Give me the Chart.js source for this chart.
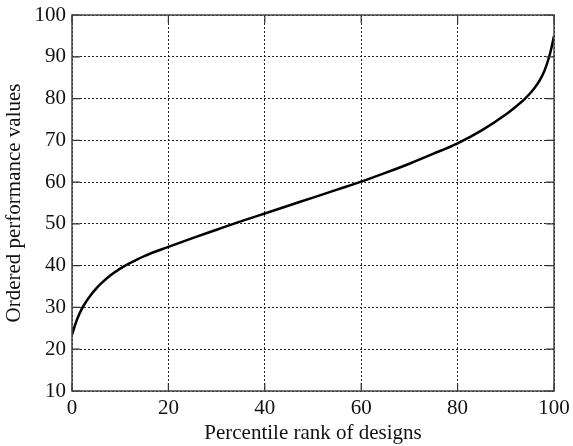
<!DOCTYPE html>
<html>
<head>
<meta charset="utf-8">
<script src="https://cdn.jsdelivr.net/npm/chart.js@4/dist/chart.umd.min.js"></script>
<style>
  html,body{margin:0;padding:0;background:#fff;}
  #wrap{width:573px;height:446px;position:relative;}
</style>
</head>
<body>
<div id="wrap"><canvas id="c"></canvas></div>
<script>
const percentile = [0, 1, 2, 3, 4, 5, 6, 8, 10, 12, 15, 20, 25, 30, 35, 40, 45, 50, 55, 60, 65, 70, 75, 80, 85, 90, 92, 94, 95, 96, 97, 98, 99, 99.5, 100];
const perfValues = [23.5, 27, 29.6, 31.5, 33.1, 34.5, 35.7, 37.7, 39.3, 40.6, 42.3, 44.5, 46.6, 48.6, 50.6, 52.5, 54.4, 56.3, 58.2, 60.1, 62.2, 64.4, 66.8, 69.3, 72.4, 76.2, 78, 80, 81.2, 82.6, 84.3, 86.6, 90, 92.3, 95];
const xTicks = [0, 20, 40, 60, 80, 100];
const yTicks = [10, 20, 30, 40, 50, 60, 70, 80, 90, 100];

const serif = '"Liberation Serif", "DejaVu Serif", serif';

// short solid tick marks drawn inward from the frame
const innerTicks = {
  id:'innerTicks',
  afterDraw(chart){
    const {ctx, chartArea:a, scales:{x, y}} = chart;
    ctx.save();
    ctx.strokeStyle = '#333';
    ctx.lineWidth = 1.2;
    ctx.beginPath();
    xTicks.forEach(v=>{
      const px = x.getPixelForValue(v);
      ctx.moveTo(px, a.bottom); ctx.lineTo(px, a.bottom-8);
      ctx.moveTo(px, a.top); ctx.lineTo(px, a.top+8);
    });
    yTicks.forEach(v=>{
      const py = y.getPixelForValue(v);
      ctx.moveTo(a.left, py); ctx.lineTo(a.left+8, py);
      ctx.moveTo(a.right, py); ctx.lineTo(a.right-8, py);
    });
    ctx.stroke();
    ctx.strokeStyle = '#444';
    ctx.lineWidth = 1.5;
    ctx.strokeRect(a.left, a.top, a.right-a.left, a.bottom-a.top);
    ctx.restore();
  }
};

new Chart(document.getElementById('c'), {
  type:'line',
  data:{
    datasets:[{
      data: percentile.map((p,i)=>({x:p, y:perfValues[i]})),
      borderColor:'#000',
      borderWidth:2.5,
      pointRadius:0,
      cubicInterpolationMode:'monotone',
      fill:false
    }]
  },
  options:{
    responsive:true,
    maintainAspectRatio:false,
    animation:false,
    layout:{ padding:{ top:15, right:19 } },
    plugins:{ legend:{display:false}, tooltip:{enabled:false} },
    scales:{
      x:{
        type:'linear', min:0, max:100,
        afterBuildTicks(s){ s.ticks = xTicks.map(v=>({value:v})); },
        afterFit(s){ s.height = 55; s.paddingLeft = 0; s.paddingRight = 0; },
        grid:{ color:'#222', lineWidth:1, drawTicks:false },
        border:{ display:false, dash:[2,2] },
        ticks:{ color:'#111', padding:5, font:{family:serif, size:21}, maxRotation:0 },
        title:{ display:true, text:'Percentile rank of designs', color:'#111', padding:{top:0,bottom:0}, font:{family:serif, size:21} }
      },
      y:{
        min:10, max:100,
        afterBuildTicks(s){ s.ticks = yTicks.map(v=>({value:v})); },
        afterFit(s){ s.width = 72; s.paddingTop = 0; s.paddingBottom = 0; },
        grid:{ color:'#222', lineWidth:1, drawTicks:false },
        border:{ display:false, dash:[2,2] },
        ticks:{ color:'#111', padding:6, font:{family:serif, size:21} },
        title:{ display:true, text:'Ordered performance values', color:'#111', padding:{top:2,bottom:0}, font:{family:serif, size:21} }
      }
    }
  },
  plugins:[innerTicks]
});
</script>
</body>
</html>
